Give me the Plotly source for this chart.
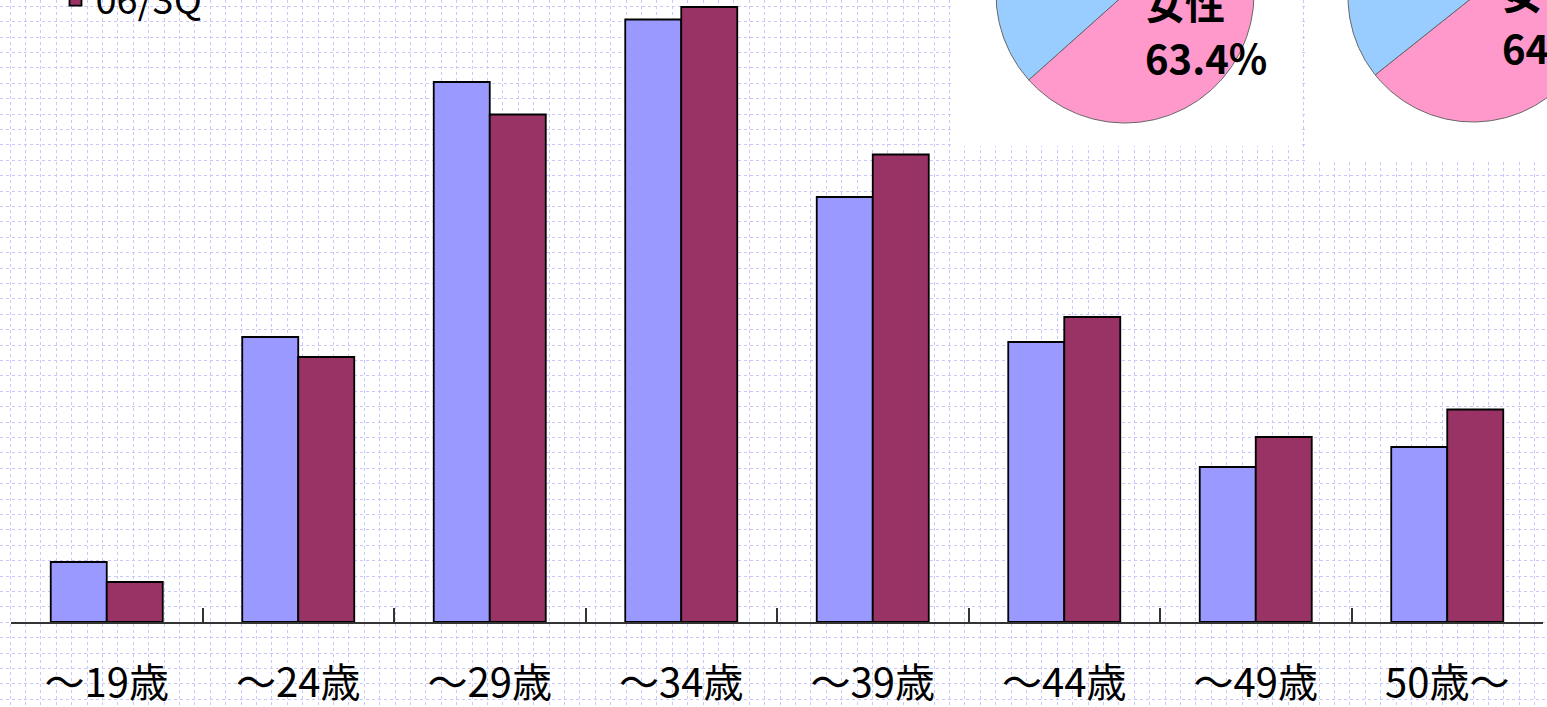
import numpy as np
import plotly.graph_objects as go

# ---------------- data ----------------
categories = ["～19歳", "～24歳", "～29歳", "～34歳", "～39歳", "～44歳", "～49歳", "50歳～"]
series_names = ["05/3Q", "06/3Q"]
values_prev = [2.4, 11.4, 21.6, 24.1, 17.0, 11.2, 6.2, 7.0]
values_curr = [1.6, 10.6, 20.3, 24.6, 18.7, 12.2, 7.4, 8.5]

pie_labels = ["女性", "男性"]
pie_prev_share = [63.4, 36.6]
pie_curr_share = [64.3, 35.7]

# ---------------- layout constants ----------------
W, H = 1547, 707
BASE_Y = 622            # pixel row of the bar baseline
PX_PER_UNIT = 25.0
FONT = "Noto Sans CJK JP"
BLUE, MAROON = "#9999FF", "#993366"
PINK, SKY = "#FF99CC", "#99CCFF"

fig = go.Figure()

# ---------------- pies (drawn on a full-page canvas axis) ----------------
def slice_path(cx, cy, r, f0, f1):
    n = max(int(abs(f1 - f0) * 360), 2)
    t = np.linspace(f0, f1, n) * 2 * np.pi
    xs = np.concatenate([[cx], cx + r * np.sin(t), [cx]])
    ys = np.concatenate([[cy], cy - r * np.cos(t), [cy]])
    return xs, ys

pies = [
    dict(share=pie_prev_share, cx=1125, cy=-6, r=129, lx=1143, ly=57),
    dict(share=pie_curr_share, cx=1473, cy=-3, r=125, lx=1500, ly=47),
]
slice_colors = [PINK, SKY]
for p in pies:
    start = 0.0
    for lab, val, col in zip(pie_labels, p["share"], slice_colors):
        end = start + val / 100.0
        xs, ys = slice_path(p["cx"], p["cy"], p["r"], start, end)
        fig.add_trace(go.Scatter(
            x=xs, y=ys, mode="lines", fill="toself", fillcolor=col,
            line=dict(color="#666666", width=1), name=lab,
            showlegend=False, hoverinfo="skip", xaxis="x", yaxis="y"))
        start = end
    lab_font = dict(family=FONT, size=40, color="black", weight="bold")
    fig.add_annotation(
        x=p["lx"], y=1 - (p["ly"] - 55) / H, xref="x", yref="paper", xanchor="left",
        yanchor="middle", showarrow=False, text=pie_labels[0], font=lab_font)
    fig.add_annotation(
        x=p["lx"], y=1 - p["ly"] / H, xref="x", yref="paper", xanchor="left",
        yanchor="middle", showarrow=False, text=f"{p['share'][0]}%", font=lab_font)

# ---------------- bars ----------------
for name, vals, col in zip(series_names, [values_prev, values_curr], [BLUE, MAROON]):
    fig.add_trace(go.Bar(
        x=categories, y=vals, name=name, xaxis="x2", yaxis="y2",
        marker=dict(color=col, line=dict(color="black", width=1.8))))

fig.update_layout(
    width=W, height=H,
    margin=dict(l=0, r=0, t=0, b=0, pad=0, autoexpand=False),
    paper_bgcolor="white", plot_bgcolor="rgba(0,0,0,0)",
    barmode="group", bargap=0.415, bargroupgap=0,
    xaxis=dict(domain=[0, 1], range=[0, W], showgrid=True, gridcolor="#c8c8ff",
               griddash="dot", gridwidth=1, tick0=10, dtick=15.4,
               showticklabels=False, ticks="", zeroline=False, showline=False,
               fixedrange=True),
    yaxis=dict(domain=[0, 1], range=[H, 0], showgrid=True, gridcolor="#c8c8ff",
               griddash="dot", gridwidth=1, tick0=6.3, dtick=15.4,
               showticklabels=False, ticks="", zeroline=False, showline=False,
               fixedrange=True),
    xaxis2=dict(domain=[11 / W, 1543 / W], anchor="y2", type="category",
                tickson="boundaries", ticks="inside", ticklen=14, tickwidth=1.5,
                tickcolor="#333333", showline=True, linecolor="#333333", linewidth=1.5,
                showgrid=False, zeroline=False, ticklabelstandoff=25,
                tickfont=dict(family=FONT, size=40, color="black"), fixedrange=True),
    yaxis2=dict(domain=[(H - BASE_Y) / H, 1], anchor="x2",
                range=[0, BASE_Y / PX_PER_UNIT], visible=False, fixedrange=True),
    legend=dict(x=55.5 / W, xanchor="left", y=1 + 84 / H, yanchor="top",
                font=dict(family=FONT, size=38, color="black"),
                bgcolor="rgba(0,0,0,0)", borderwidth=0, tracegroupgap=0),
    shapes=[
        dict(type="rect", xref="x", yref="y", x0=954, x1=1300, y0=-10, y1=146,
             fillcolor="white", line=dict(width=0), layer="between"),
        dict(type="rect", xref="x", yref="y", x0=1307, x1=1560, y0=-10, y1=162,
             fillcolor="white", line=dict(width=0), layer="between"),
    ],
    showlegend=True,
)

fig.write_html("out.html")
